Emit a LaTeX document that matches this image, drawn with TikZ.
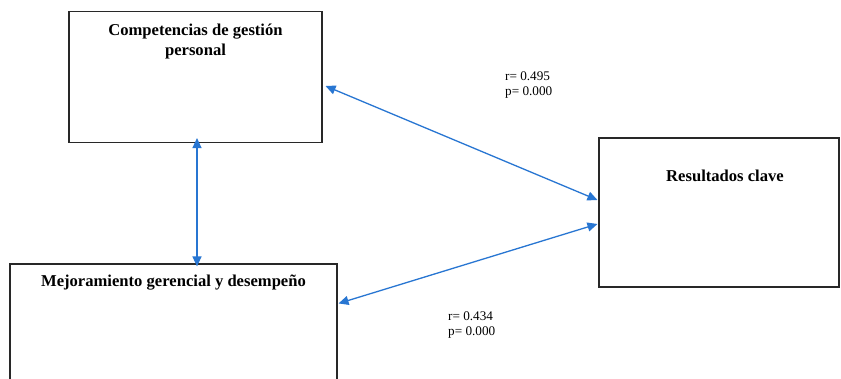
\documentclass[tikz,border=0pt]{standalone}
\usepackage{fontspec}
\setmainfont{Liberation Serif}
\usetikzlibrary{arrows.meta,calc}
\definecolor{arrowblue}{RGB}{40,118,210}
\definecolor{boxline}{RGB}{40,40,40}
\begin{document}
\begin{tikzpicture}[x=1pt,y=-1pt,
  boxs/.style={draw=boxline,line width=1.1pt,inner sep=0pt,fill=white},
  titles/.style={font=\fontsize{16.6}{20}\selectfont\bfseries,align=center,inner sep=0pt},
  stat/.style={font=\fontsize{13.2}{15}\selectfont,align=left,inner sep=0pt,anchor=west},
  conn/.style={draw=arrowblue,line width=1.3pt,{Triangle[length=10pt,width=9pt]}-{Triangle[length=10pt,width=9pt]}}]
\useasboundingbox (0,0) rectangle (841,379);
\clip (0,0) rectangle (841,379);
\fill[white] (0,0) rectangle (841,379);
\node[boxs,minimum width=253pt,minimum height=131pt] (b1) at (195.5,77) {};
\node[boxs,minimum width=327pt,minimum height=140pt] (b2) at (173.5,334) {};
\node[boxs,minimum width=240pt,minimum height=149pt] (b3) at (719,212.5) {};
\node[titles] (t1) at (195.5,42) {Competencias de gestión\\personal};
\node[titles] (t2) at (173.5,283) {Mejoramiento gerencial y desempeño};
\node[titles] (t3) at (725,176) {Resultados clave};
\node[stat] (s1) at (505,85.5) {r= 0.495\\p= 0.000};
\node[stat] (s2) at (448,325.5) {r= 0.434\\p= 0.000};
\draw[conn] ($(b1.south)+(1.5,-5)$) -- ($(b2.north)+(23.5,3)$);
\draw[conn] ($(b1.east)+(3,9)$) -- ($(b3.west)+(-1,-12.5)$);
\draw[conn] ($(b2.north east)+(1,40)$) -- ($(b3.west)+(-1,11.5)$);
\end{tikzpicture}
\end{document}
